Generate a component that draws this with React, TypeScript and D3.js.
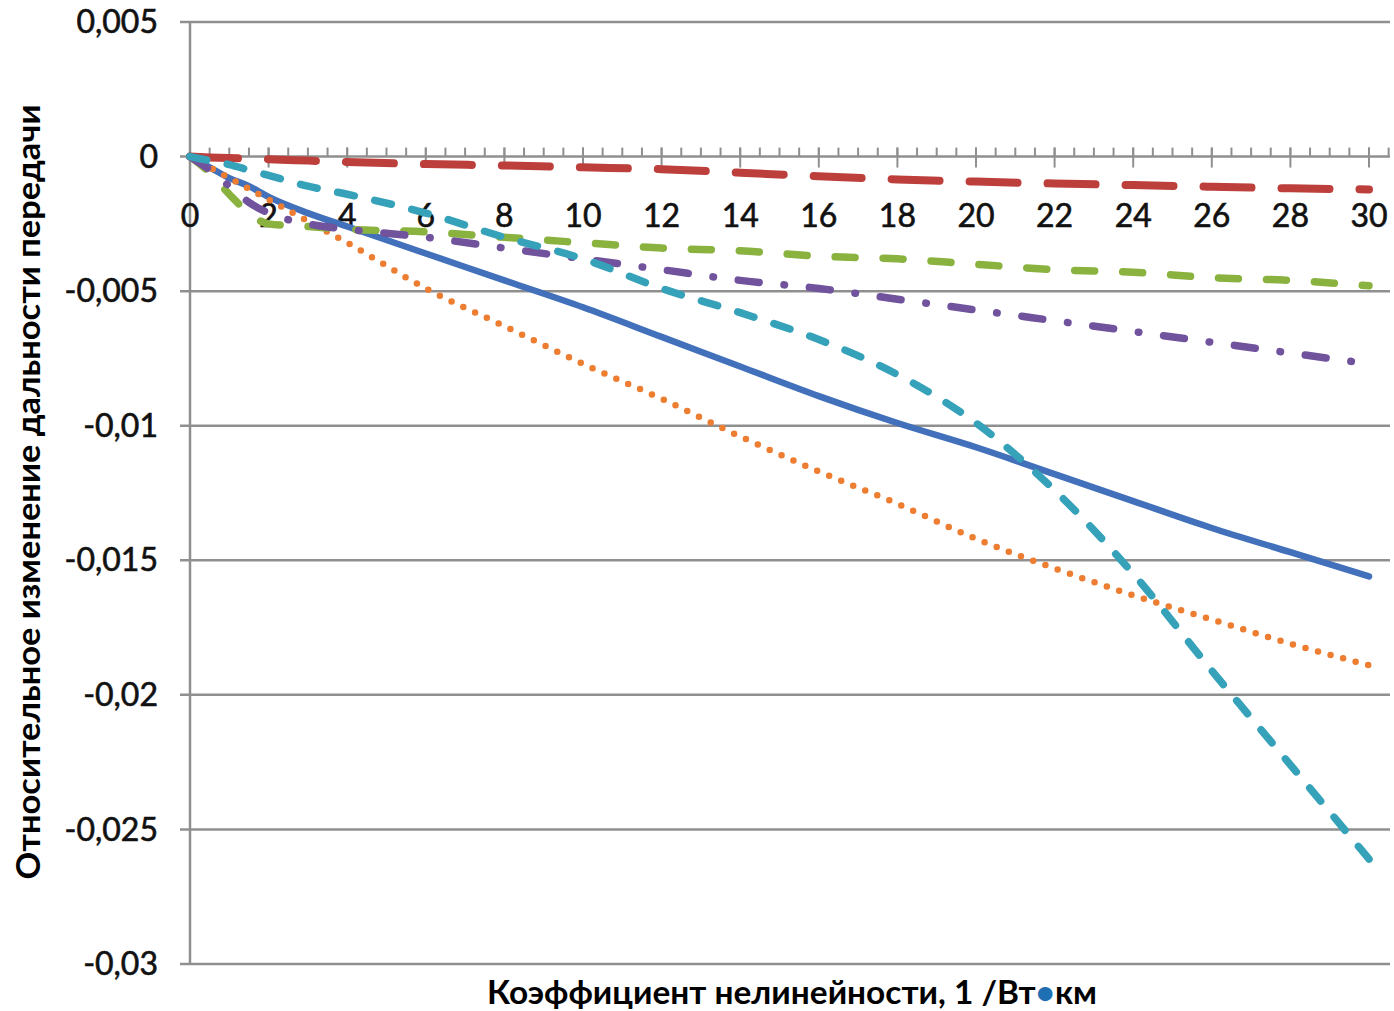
import React, { useEffect, useRef } from 'react';
import * as d3 from 'd3';

// shared x values (коэффициент нелинейности)
const xVals = [0, 0.5, 1, 1.5, 2, 3, 4, 6, 8, 10, 12, 14, 16, 18, 20, 22, 24, 26, 28, 30];

const blueVals = [0, -0.0004, -0.0008, -0.0011, -0.0015, -0.0021, -0.0026, -0.0036, -0.0046, -0.0056, -0.0067, -0.0078, -0.0089, -0.0099, -0.0108, -0.0118, -0.0128, -0.0138, -0.0147, -0.0156];
const orangeVals = [0, -0.0004, -0.0008, -0.0012, -0.0016, -0.0024, -0.0032, -0.0049, -0.0063, -0.0077, -0.009, -0.0104, -0.0117, -0.0129, -0.0142, -0.0153, -0.0163, -0.0172, -0.0181, -0.0189];
const redVals = [0, -0.00003, -0.00005, -0.00008, -0.0001, -0.00015, -0.0002, -0.00028, -0.00033, -0.0004, -0.00047, -0.0006, -0.00073, -0.00085, -0.00093, -0.001, -0.00106, -0.00112, -0.00118, -0.00122];
const greenVals = [0, -0.0006, -0.0014, -0.0021, -0.0025, -0.0026, -0.0027, -0.0028, -0.003, -0.0032, -0.0034, -0.0035, -0.0037, -0.0038, -0.004, -0.0042, -0.0043, -0.0045, -0.0046, -0.0048];
const purpleVals = [0, -0.0005, -0.0011, -0.0017, -0.0021, -0.0025, -0.0027, -0.003, -0.0034, -0.0038, -0.0042, -0.0046, -0.0049, -0.0053, -0.0057, -0.0061, -0.0065, -0.0069, -0.0073, -0.0077];
const cyanVals = [0, -0.00015, -0.0003, -0.0005, -0.0007, -0.0011, -0.0014, -0.0021, -0.003, -0.0038, -0.0049, -0.0058, -0.0068, -0.0081, -0.0099, -0.0124, -0.0155, -0.0191, -0.0226, -0.0261];

const yTicks = [0.005, 0, -0.005, -0.01, -0.015, -0.02, -0.025, -0.03];
const yTickLabels = ['0,005', '0', '-0,005', '-0,01', '-0,015', '-0,02', '-0,025', '-0,03'];
const xTicks = [0, 2, 4, 6, 8, 10, 12, 14, 16, 18, 20, 22, 24, 26, 28, 30];

const xTitle = 'Коэффициент нелинейности, 1 /Вт';
const xTitleUnit = 'км';
const yTitle = 'Относительное изменение дальности передачи';

const series = [
  { vals: blueVals, color: '#4270bb', width: 6.5, dash: null },
  { vals: orangeVals, color: '#ec7d31', width: 6.5, dash: '0 13' },
  { vals: redVals, color: '#bd3f3c', width: 8, dash: '48 30' },
  { vals: greenVals, color: '#8ab23f', width: 7.5, dash: '20 28' },
  { vals: purpleVals, color: '#70529d', width: 7.5, dash: '21 25 0.5 25' },
  { vals: cyanVals, color: '#36a2ba', width: 7.5, dash: '17 21' },
];

const App = () => {
  const ref = useRef(null);

  useEffect(() => {
    const svg = d3.select(ref.current);
    svg.selectAll('*').remove();

    const font = 'Lato, "Open Sans", sans-serif';
    const x = d3.scaleLinear().domain([0, 30]).range([190, 1369]);
    const y = d3.scaleLinear().domain([-0.03, 0.005]).range([964, 22]);
    const xEnd = 1390;
    const grid = '#8f8f8f';

    svg.append('rect').attr('width', 1394).attr('height', 1011).attr('fill', '#fff');

    // gridlines + y tick labels
    const g = svg.append('g');
    g.selectAll('line.grid')
      .data(yTicks)
      .enter().append('line')
      .attr('x1', 180).attr('x2', xEnd)
      .attr('y1', d => y(d)).attr('y2', d => y(d))
      .attr('stroke', grid).attr('stroke-width', 2.5);

    g.selectAll('text.ylab')
      .data(yTicks)
      .enter().append('text')
      .attr('x', 158)
      .attr('y', d => y(d))
      .attr('dy', '0.35em')
      .attr('text-anchor', 'end')
      .attr('font-family', font)
      .attr('font-size', 32)
      .attr('stroke', '#111')
      .attr('stroke-width', 0.6)
      .attr('fill', '#111')
      .text((d, i) => yTickLabels[i]);

    // y axis line
    g.append('line')
      .attr('x1', x(0)).attr('x2', x(0))
      .attr('y1', y(0.005)).attr('y2', y(-0.03))
      .attr('stroke', grid).attr('stroke-width', 2.5);

    // x axis at zero: minor ticks every 0.5, major every 2
    const y0 = y(0);
    const minor = d3.range(0, 30.51, 0.5);
    g.selectAll('line.minor')
      .data(minor)
      .enter().append('line')
      .attr('x1', d => x(d)).attr('x2', d => x(d))
      .attr('y1', y0 - 9).attr('y2', y0)
      .attr('stroke', grid).attr('stroke-width', 2);
    g.selectAll('line.major')
      .data(xTicks)
      .enter().append('line')
      .attr('x1', d => x(d)).attr('x2', d => x(d))
      .attr('y1', y0 - 9).attr('y2', y0 + 11)
      .attr('stroke', grid).attr('stroke-width', 2);

    g.selectAll('text.xlab')
      .data(xTicks)
      .enter().append('text')
      .attr('x', d => x(d))
      .attr('y', 216)
      .attr('dy', '0.35em')
      .attr('text-anchor', 'middle')
      .attr('font-family', font)
      .attr('font-size', 32)
      .attr('stroke', '#111')
      .attr('stroke-width', 0.6)
      .attr('fill', '#111')
      .text(d => d);

    // series
    const line = d3.line()
      .x((d: any) => x(d[0]))
      .y((d: any) => y(d[1]))
      .curve(d3.curveMonotoneX);

    series.forEach(s => {
      const pts = xVals.map((xv, i) => [xv, s.vals[i]]);
      const p = svg.append('path')
        .attr('d', line(pts as any))
        .attr('fill', 'none')
        .attr('stroke', s.color)
        .attr('stroke-width', s.width)
        .attr('stroke-linecap', 'round')
        .attr('stroke-linejoin', 'round');
      if (s.dash) p.attr('stroke-dasharray', s.dash);
    });

    // axis titles
    const xt = svg.append('text')
      .attr('x', 792)
      .attr('y', 1004)
      .attr('text-anchor', 'middle')
      .attr('font-family', font)
      .attr('font-weight', 'bold')
      .attr('font-size', 33)
      .attr('textLength', 610)
      .attr('lengthAdjust', 'spacingAndGlyphs')
      .attr('fill', '#000');
    xt.append('tspan').text(xTitle);
    xt.append('tspan').attr('fill', '#1f6fb5').text('•');
    xt.append('tspan').text(xTitleUnit);

    svg.append('text')
      .attr('transform', 'translate(40,492) rotate(-90)')
      .attr('text-anchor', 'middle')
      .attr('font-family', font)
      .attr('font-weight', 'bold')
      .attr('font-size', 33)
      .attr('textLength', 775)
      .attr('lengthAdjust', 'spacingAndGlyphs')
      .attr('fill', '#000')
      .text(yTitle);
  }, []);

  return (
    <svg ref={ref} width={1394} height={1011} style={{ position: 'absolute', left: 0, top: 0 }}></svg>
  );
};

export default App;
